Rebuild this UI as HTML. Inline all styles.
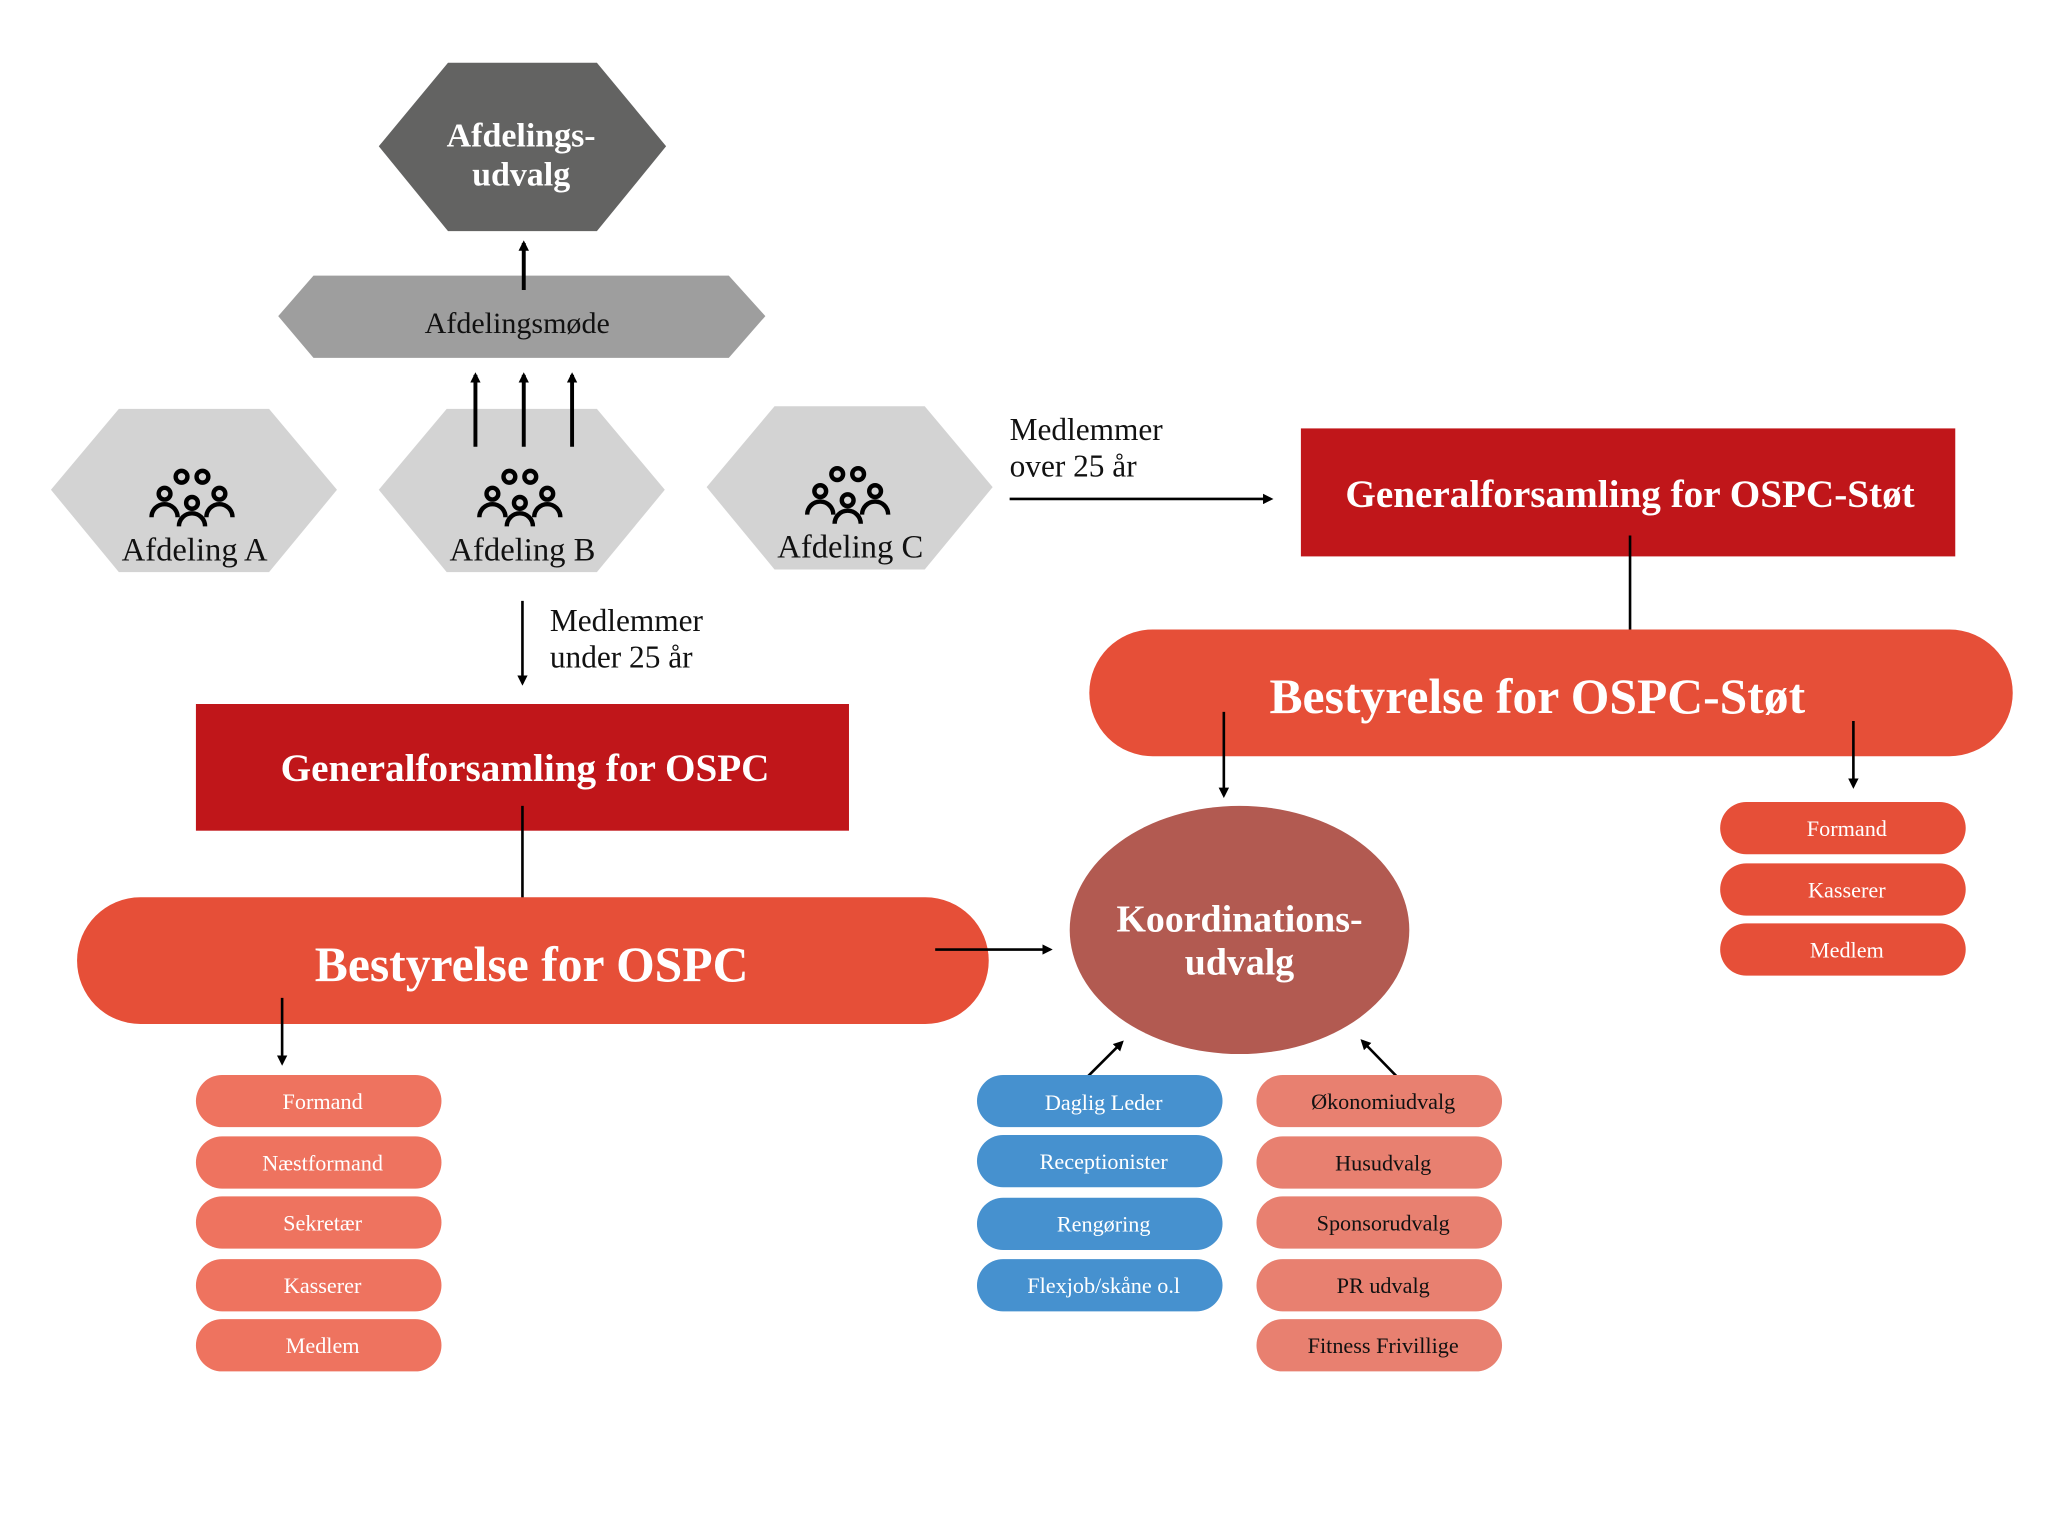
<!DOCTYPE html>
<html><head><meta charset="utf-8"><style>
html,body{margin:0;padding:0;background:#fff}
svg{display:block}
text{font-family:"Liberation Serif","DejaVu Serif",serif}
</style></head><body>
<svg width="2048" height="1536" viewBox="0 0 1568 1176" xmlns="http://www.w3.org/2000/svg">
<defs>
<marker id="ah" markerWidth="8" markerHeight="8" refX="6" refY="4" orient="auto" markerUnits="userSpaceOnUse">
<path d="M0,0 L8,4 L0,8 Z" fill="#000"/></marker>
<g id="ppl" fill="none" stroke="#000" stroke-width="3.4">
<circle cx="-8" cy="8" r="4.5"/><circle cx="8" cy="8" r="4.5"/>
<circle cx="-21" cy="21" r="4.5"/><circle cx="21" cy="21" r="4.5"/><circle cx="0" cy="28" r="4.5"/>
<path d="M-31 39 A10 10 0 0 1 -11 39"/><path d="M11 39 A10 10 0 0 1 31 39"/><path d="M-10 46 A10 10 0 0 1 10 46"/>
</g>
</defs>
<rect width="1568" height="1176" fill="#fff"/>

<!-- Afdelingsudvalg -->
<polygon points="343,48 457,48 510,112 457,177 343,177 290,112" fill="#636362"/>
<text x="399" y="112" text-anchor="middle" font-size="26" font-weight="bold" fill="#fff">Afdelings-</text>
<text x="399" y="142" text-anchor="middle" font-size="26" font-weight="bold" fill="#fff">udvalg</text>
<!-- Afdelingsmøde -->
<polygon points="240,211 558,211 586,242 558,274 240,274 213,242" fill="#9e9e9e"/>
<text x="396" y="255" text-anchor="middle" font-size="23" fill="#111">Afdelingsmøde</text>
<line x1="401" y1="222" x2="401" y2="186" stroke="#000" stroke-width="3" marker-end="url(#ah)"/>

<!-- Afdelinger -->
<polygon points="91,313 206,313 258,375 206,438 91,438 39,375" fill="#d3d3d3"/>
<polygon points="342,313 457,313 509,375 457,438 342,438 290,375" fill="#d3d3d3"/>
<polygon points="593,311 708,311 760,373 708,436 593,436 541,373" fill="#d3d3d3"/>
<use href="#ppl" x="147" y="357"/>
<use href="#ppl" x="398" y="357"/>
<use href="#ppl" x="649" y="355"/>
<text x="149" y="429" text-anchor="middle" font-size="25" fill="#111">Afdeling A</text>
<text x="400" y="429" text-anchor="middle" font-size="25" fill="#111">Afdeling B</text>
<text x="651" y="427" text-anchor="middle" font-size="25" fill="#111">Afdeling C</text>
<g stroke="#000" stroke-width="3">
<line x1="364" y1="342" x2="364" y2="287" marker-end="url(#ah)"/>
<line x1="401" y1="342" x2="401" y2="287" marker-end="url(#ah)"/>
<line x1="438" y1="342" x2="438" y2="287" marker-end="url(#ah)"/>
</g>

<!-- Medlemmer under -->
<line x1="400" y1="460" x2="400" y2="523" stroke="#000" stroke-width="2" marker-end="url(#ah)"/>
<text x="421" y="483" font-size="24" fill="#111">Medlemmer</text>
<text x="421" y="511" font-size="24" fill="#111">under 25 år</text>
<!-- Medlemmer over -->
<text x="773" y="337" font-size="24" fill="#111">Medlemmer</text>
<text x="773" y="365" font-size="24" fill="#111">over 25 år</text>
<line x1="773" y1="382" x2="973" y2="382" stroke="#000" stroke-width="2" marker-end="url(#ah)"/>

<!-- GF OSPC-Støt -->
<rect x="996" y="328" width="501" height="98" fill="#c0161a"/>
<text x="1248" y="388" text-anchor="middle" font-size="30" font-weight="bold" fill="#fff">Generalforsamling for OSPC-Støt</text>
<line x1="1248" y1="410" x2="1248" y2="490" stroke="#000" stroke-width="2" marker-end="url(#ah)"/>
<rect x="834" y="482" width="707" height="97" rx="48.5" fill="#e64f38"/>
<text x="1177" y="546" text-anchor="middle" font-size="38" font-weight="bold" fill="#fff">Bestyrelse for OSPC-Støt</text>
<line x1="937" y1="545" x2="937" y2="609" stroke="#000" stroke-width="2" marker-end="url(#ah)"/>
<line x1="1419" y1="552" x2="1419" y2="602" stroke="#000" stroke-width="2" marker-end="url(#ah)"/>

<!-- GF OSPC -->
<rect x="150" y="539" width="500" height="97" fill="#c0161a"/>
<text x="402" y="598" text-anchor="middle" font-size="30" font-weight="bold" fill="#fff">Generalforsamling for OSPC</text>
<line x1="400" y1="617" x2="400" y2="704" stroke="#000" stroke-width="2" marker-end="url(#ah)"/>
<rect x="59" y="687" width="698" height="97" rx="48.5" fill="#e64f38"/>
<text x="407" y="751" text-anchor="middle" font-size="38" font-weight="bold" fill="#fff">Bestyrelse for OSPC</text>
<line x1="716" y1="727" x2="804" y2="727" stroke="#000" stroke-width="2" marker-end="url(#ah)"/>
<line x1="216" y1="764" x2="216" y2="814" stroke="#000" stroke-width="2" marker-end="url(#ah)"/>

<!-- Koordination -->
<ellipse cx="949" cy="712" rx="130" ry="95" fill="#b25a51"/>
<text x="949" y="713" text-anchor="middle" font-size="29" font-weight="bold" fill="#fff">Koordinations-</text>
<text x="949" y="746" text-anchor="middle" font-size="29" font-weight="bold" fill="#fff">udvalg</text>
<line x1="825" y1="832" x2="859" y2="798" stroke="#000" stroke-width="2" marker-end="url(#ah)"/>
<line x1="1077" y1="832" x2="1043" y2="797" stroke="#000" stroke-width="2" marker-end="url(#ah)"/>

<!-- Left list -->
<g font-size="17" text-anchor="middle">
<g fill="#ee735f">
<rect x="150" y="823" width="188" height="40" rx="20"/>
<rect x="150" y="870" width="188" height="40" rx="20"/>
<rect x="150" y="916" width="188" height="40" rx="20"/>
<rect x="150" y="964" width="188" height="40" rx="20"/>
<rect x="150" y="1010" width="188" height="40" rx="20"/>
</g>
<g fill="#fff">
<text x="247" y="849">Formand</text>
<text x="247" y="896">Næstformand</text>
<text x="247" y="942">Sekretær</text>
<text x="247" y="990">Kasserer</text>
<text x="247" y="1036">Medlem</text>
</g>
<!-- Blue -->
<g fill="#4691cf">
<rect x="748" y="823" width="188" height="40" rx="20"/>
<rect x="748" y="869" width="188" height="40" rx="20"/>
<rect x="748" y="917" width="188" height="40" rx="20"/>
<rect x="748" y="964" width="188" height="40" rx="20"/>
</g>
<g fill="#fff">
<text x="845" y="850">Daglig Leder</text>
<text x="845" y="895">Receptionister</text>
<text x="845" y="943">Rengøring</text>
<text x="845" y="990">Flexjob/skåne o.l</text>
</g>
<!-- Salmon -->
<g fill="#e88070">
<rect x="962" y="823" width="188" height="40" rx="20"/>
<rect x="962" y="870" width="188" height="40" rx="20"/>
<rect x="962" y="916" width="188" height="40" rx="20"/>
<rect x="962" y="964" width="188" height="40" rx="20"/>
<rect x="962" y="1010" width="188" height="40" rx="20"/>
</g>
<g fill="#111">
<text x="1059" y="849">Økonomiudvalg</text>
<text x="1059" y="896">Husudvalg</text>
<text x="1059" y="942">Sponsorudvalg</text>
<text x="1059" y="990">PR udvalg</text>
<text x="1059" y="1036">Fitness Frivillige</text>
</g>
<!-- Right -->
<g fill="#e64f38">
<rect x="1317" y="614" width="188" height="40" rx="20"/>
<rect x="1317" y="661" width="188" height="40" rx="20"/>
<rect x="1317" y="707" width="188" height="40" rx="20"/>
</g>
<g fill="#fff">
<text x="1414" y="640">Formand</text>
<text x="1414" y="687">Kasserer</text>
<text x="1414" y="733">Medlem</text>
</g>
</g>
</svg>
</body></html>
